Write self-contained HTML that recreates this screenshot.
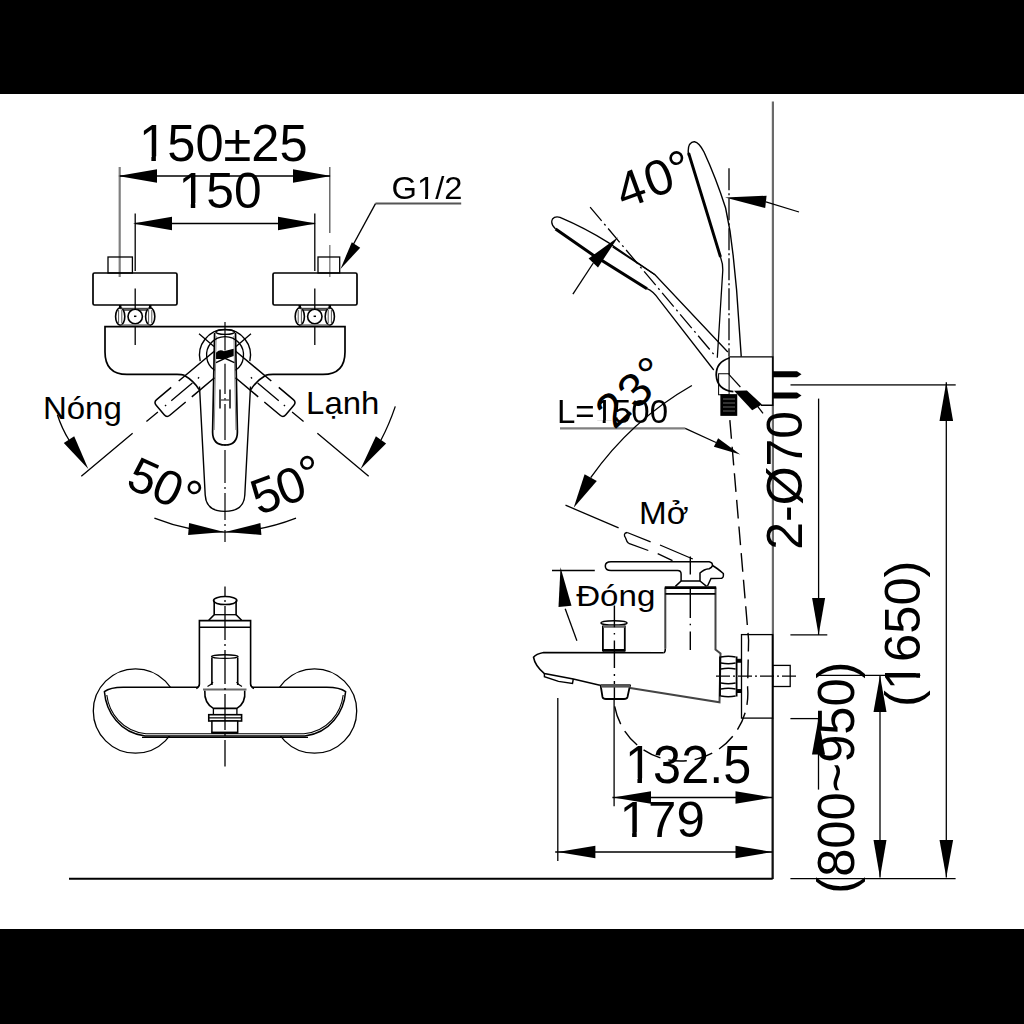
<!DOCTYPE html>
<html><head><meta charset="utf-8">
<style>
html,body{margin:0;padding:0;background:#000;width:1024px;height:1024px;overflow:hidden}
svg{display:block}
text{font-family:"Liberation Sans",sans-serif;fill:#000;stroke:none}
</style></head>
<body>
<svg width="1024" height="1024" viewBox="0 0 1024 1024">
<rect x="0" y="0" width="1024" height="1024" fill="#000"/>
<rect x="0" y="94" width="1024" height="835" fill="#fff"/>
<g fill="none" stroke="#000" stroke-width="1.3">
<line x1="119.7" y1="167" x2="119.7" y2="277" stroke="#808080" stroke-width="2.2"/>
<line x1="329.8" y1="167" x2="329.8" y2="233" stroke="#555"/>
<line x1="329.8" y1="245" x2="329.8" y2="277" stroke="#888" stroke-width="1.5"/>
<line x1="120" y1="176" x2="330" y2="176" />
<path d="M118.0,176.0 L157.0,169.2 L157.0,182.8 Z" fill="#000" stroke="none"/>
<path d="M331.0,176.0 L293.0,182.8 L293.0,169.2 Z" fill="#000" stroke="none"/>
<line x1="135.2" y1="213.5" x2="135.2" y2="271" />
<line x1="314.8" y1="213.5" x2="314.8" y2="271" />
<line x1="135" y1="223.5" x2="315" y2="223.5" />
<path d="M133.0,223.5 L172.0,216.7 L172.0,230.3 Z" fill="#000" stroke="none"/>
<path d="M316.0,223.5 L278.0,230.3 L278.0,216.7 Z" fill="#000" stroke="none"/>
<line x1="375.5" y1="203.6" x2="461.2" y2="203.6" stroke="#555" stroke-width="2"/>
<polyline points="375.5,203.6 347,256"/>
<path d="M340.5,269.0 L351.8,242.3 L360.2,247.7 Z" fill="#000" stroke="none"/>
<rect x="108" y="257" width="24.4" height="16"/>
<rect x="93" y="273" width="84" height="32" rx="1.5" stroke-width="1.7"/>
<rect x="318" y="257" width="21.7" height="16"/>
<rect x="273" y="273" width="84" height="32" rx="1.5" stroke-width="1.7"/>
<rect x="120.19999999999999" y="308" width="30" height="3" fill="#666" stroke="none"/>
<ellipse cx="120.19999999999999" cy="316.5" rx="4.6" ry="8.8" fill="#fff" stroke-width="1.6"/>
<line x1="118.6" y1="310" x2="118.6" y2="323" stroke="#555" stroke-width="1"/>
<line x1="121.79999999999998" y1="310" x2="121.79999999999998" y2="323" stroke="#555" stroke-width="1"/>
<ellipse cx="150.2" cy="316.5" rx="4.6" ry="8.8" fill="#fff" stroke-width="1.6"/>
<line x1="148.6" y1="310" x2="148.6" y2="323" stroke="#555" stroke-width="1"/>
<line x1="151.79999999999998" y1="310" x2="151.79999999999998" y2="323" stroke="#555" stroke-width="1"/>
<circle cx="135.2" cy="316.5" r="7.2" fill="#fff" stroke-width="1.6"/>
<line x1="134.0" y1="316.3" x2="136.39999999999998" y2="316.3" stroke-width="1.5"/>
<line x1="120.19999999999999" y1="308.5" x2="150.2" y2="308.5" stroke="#444" stroke-width="1.4"/>
<line x1="120.19999999999999" y1="325" x2="150.2" y2="325" stroke="#666"/>
<line x1="120.19999999999999" y1="305" x2="120.19999999999999" y2="308.5" stroke-width="2.5"/>
<line x1="150.2" y1="305" x2="150.2" y2="308.5" stroke-width="2.5"/>
<line x1="135.2" y1="288.5" x2="135.2" y2="310" />
<line x1="135.2" y1="327" x2="135.2" y2="345" />
<rect x="299.8" y="308" width="30" height="3" fill="#666" stroke="none"/>
<ellipse cx="299.8" cy="316.5" rx="4.6" ry="8.8" fill="#fff" stroke-width="1.6"/>
<line x1="298.2" y1="310" x2="298.2" y2="323" stroke="#555" stroke-width="1"/>
<line x1="301.40000000000003" y1="310" x2="301.40000000000003" y2="323" stroke="#555" stroke-width="1"/>
<ellipse cx="329.8" cy="316.5" rx="4.6" ry="8.8" fill="#fff" stroke-width="1.6"/>
<line x1="328.2" y1="310" x2="328.2" y2="323" stroke="#555" stroke-width="1"/>
<line x1="331.40000000000003" y1="310" x2="331.40000000000003" y2="323" stroke="#555" stroke-width="1"/>
<circle cx="314.8" cy="316.5" r="7.2" fill="#fff" stroke-width="1.6"/>
<line x1="313.6" y1="316.3" x2="316.0" y2="316.3" stroke-width="1.5"/>
<line x1="299.8" y1="308.5" x2="329.8" y2="308.5" stroke="#444" stroke-width="1.4"/>
<line x1="299.8" y1="325" x2="329.8" y2="325" stroke="#666"/>
<line x1="299.8" y1="305" x2="299.8" y2="308.5" stroke-width="2.5"/>
<line x1="329.8" y1="305" x2="329.8" y2="308.5" stroke-width="2.5"/>
<line x1="314.8" y1="288.5" x2="314.8" y2="310" />
<line x1="314.8" y1="327" x2="314.8" y2="345" />
<path d="M184.5,375.3 Q182,374.4 177,374.4 L127,374.4 Q105,374.4 105,352 L105,326.7 L345,326.7 L345,352 Q345,374.4 323,374.4 L273,374.4 Q268,374.4 265.5,375.3" stroke-width="1.7"/>
<path d="M199.5,386.5 L205.2,495 Q206,511.4 224.7,511.4 Q244,511.4 244.8,495 L250.5,386.5" stroke-width="1.4"/>
<path d="M214.6,333 L212.6,432 Q212.6,445 225,445 Q237.4,445 237.4,432 L235.5,333" stroke-width="1.7"/>
<ellipse cx="225.2" cy="332" rx="9.4" ry="2.4" stroke-width="1.4"/>
<line x1="216.2" y1="336" x2="214.2" y2="430" stroke="#888" stroke-width="1"/>
<line x1="233.9" y1="336" x2="235.9" y2="430" stroke="#888" stroke-width="1"/>
<path d="M216,362.6 L225,358.3 L234.4,362.6" stroke-width="1.4"/>
<path d="M216.7,353 Q220,349.5 224,352 L233,349.6 L233,355.5 L225,358.3 L216.7,358.3 Z" fill="#000"/>
<path d="M200.2,361 A25.5 25.5 0 1 1 249.8,361" stroke-width="1.4"/>
<path d="M214.6,370.3 A18.5 18.5 0 1 1 235.5,370.3" stroke-width="1.3"/>
<path d="M225,322 L225,350.5 M225,363.7 L225,394 M225,398 L225,400 M225,404 L225,440 M225,444 L225,446 M225,450 L225,483 M225,487 L225,489 M225,493 L225,520 M225,524 L225,526 M225,530 L225,542" stroke-width="1.2"/>
<line x1="220" y1="389.5" x2="220" y2="408.5" stroke="#333" stroke-width="1.8"/>
<line x1="230" y1="389.5" x2="230" y2="408.5" stroke="#333" stroke-width="1.8"/>
<line x1="220" y1="400" x2="230" y2="400" stroke="#444"/>
<g transform="translate(225,355) rotate(40)"><path d="M5.4,-9.8 L52.2,-9.8 M22.7,10.7 L52.3,10.7" stroke-width="1.5"/><path d="M62,-9.8 L81,-9.8 Q85,-9.8 85,-5.8 L85,6.7 Q85,10.7 81,10.7 L60.3,10.7" stroke-width="1.5"/><path d="M44.2,-10.3 Q40.5,0 42.1,9.8" stroke-width="1.5"/><path d="M43,0.5 L70.6,0.5 M77.2,0.5 L78.8,0.5 M88,0.5 L103,0.5 M121,0.5 L188,0.5 M-33.5,0.5 L-14,0.5 M34.2,0.5 L35.8,0.5" stroke-width="1.3"/></g>
<g transform="translate(225,355) scale(-1,1) rotate(40)"><path d="M5.4,-9.8 L52.2,-9.8 M22.7,10.7 L52.3,10.7" stroke-width="1.5"/><path d="M62,-9.8 L81,-9.8 Q85,-9.8 85,-5.8 L85,6.7 Q85,10.7 81,10.7 L60.3,10.7" stroke-width="1.5"/><path d="M44.2,-10.3 Q40.5,0 42.1,9.8" stroke-width="1.5"/><path d="M43,0.5 L70.6,0.5 M77.2,0.5 L78.8,0.5 M88,0.5 L103,0.5 M121,0.5 L188,0.5 M-33.5,0.5 L-14,0.5 M34.2,0.5 L35.8,0.5" stroke-width="1.3"/></g>
<path d="M154.4,518.2 Q224.7,546 296,518.2" stroke-width="1.3"/>
<path d="M224.2,531.9 L188.1,534.9 L189.1,523.1 Z" fill="#000" stroke="none"/>
<path d="M225.2,531.9 L260.4,523.1 L261.4,534.9 Z" fill="#000" stroke="none"/>
<path d="M57.4,414.8 Q62,429 69,440" stroke-width="1.3"/>
<path d="M88.3,469.0 L63.8,443.1 L74.2,436.3 Z" fill="#000" stroke="none"/>
<path d="M395.3,406.4 Q389,425 381,440" stroke-width="1.3"/>
<path d="M360.6,469.0 L375.9,436.3 L386.1,443.5 Z" fill="#000" stroke="none"/>
<circle cx="135.5" cy="711" r="42.2" stroke-width="1.3"/>
<circle cx="314.5" cy="711" r="42.2" stroke-width="1.3"/>
<path d="M104.4,691.6 Q110,687.2 123.2,687.2 L326.8,687.2 Q340,687.2 345.6,691.6 C344,712 330,733 305,736 L145,736 C120,733 106,712 104.4,691.6 Z" fill="#fff" stroke-width="1.5"/>
<path d="M106.8,695 C109,713 122,731 146,733.8 L304,733.8 C328,731 341,713 343.2,695" stroke-width="1.1"/>
<line x1="142" y1="737.3" x2="308" y2="737.3" stroke-width="1.3"/>
<path d="M196.25,688.5 Q199.4,687 199.4,684 L199.4,620.6 L250.6,620.6 L250.6,684 Q250.6,687 254,688.5" fill="#fff" stroke-width="1.6"/>
<line x1="199.4" y1="627.2" x2="250.6" y2="627.2" stroke-width="1.6"/>
<path d="M208.75,620.2 L214.2,614.7 L214.2,600.6 M241.6,620.2 L236.1,614.7 L236.1,600.6" stroke-width="1.6"/>
<line x1="214.2" y1="614.7" x2="236.1" y2="614.7" />
<ellipse cx="225.2" cy="600.6" rx="11.7" ry="4" stroke-width="1.5"/>
<path d="M211.9,685 L211.9,657.5 M237.7,685 L237.7,657.5" stroke-width="1.6"/>
<ellipse cx="224.8" cy="656.6" rx="13.3" ry="1.8" stroke-width="1.4"/>
<path d="M207.5,686.5 Q211.5,684.5 213,682 M242,686.5 Q238,684.5 236.6,682" stroke-width="1.3"/>
<path d="M204.8,690.5 Q204,703 213.4,708.4 L236.9,708.4 Q246,703 244.7,690.5" fill="#fff" stroke-width="1.6"/>
<line x1="203" y1="689.5" x2="246.5" y2="689.5" stroke="#666" stroke-width="2"/>
<path d="M213.4,708.4 L213.4,714.7 M236.9,708.4 L236.9,714.7" stroke-width="1.3"/>
<rect x="208.75" y="714.7" width="32.85" height="6.3" fill="#fff" stroke-width="1.6"/>
<line x1="209" y1="717.8" x2="241.4" y2="717.8" stroke-width="1.3"/>
<rect x="211.9" y="721" width="25.8" height="11.7" fill="#fff" stroke-width="1.5"/>
<line x1="211.5" y1="732.7" x2="238" y2="732.7" stroke-width="2.2"/>
<path d="M225,586.4 L225,597 M225,600 L225,602 M225,606 L225,640 M225,644 L225,646 M225,650 L225,684 M225,688 L225,690 M225,694 L225,730 M225,734 L225,736 M225,740 L225,766.6" stroke-width="1.3"/>
<line x1="772.9" y1="101.5" x2="772.9" y2="879" stroke="#6a6a6a" stroke-width="2.2"/>
<line x1="772.5" y1="634.6" x2="772.5" y2="718" stroke="#333" stroke-width="1.6"/>
<line x1="772.5" y1="718" x2="772.5" y2="879" stroke="#111" stroke-width="1.8"/>
<line x1="69" y1="878.7" x2="772.7" y2="878.7" stroke-width="2"/>
<path d="M688.6,156 Q687.5,148 689.5,144.5 Q692,141.5 694.5,141.8 Q699,142.5 704,152 Q716,178 725.6,208 Q731,232 733.4,258 L736.6,290 L741.25,356.6" stroke-width="1.4"/>
<path d="M688.6,153 L704.6,205 L720.5,257" stroke-width="2.9"/>
<path d="M720.5,257 Q723,264 722.8,270 L717.3,357.8" stroke-width="1.3"/>
<line x1="729" y1="168.2" x2="729" y2="356" stroke-dasharray="22,3,2,3"/>
<path d="M725.0,197.5 L766.6,195.7 L765.2,208.1 Z" fill="#000" stroke="none"/>
<line x1="765.9" y1="201.9" x2="799" y2="212" />
<path d="M555.6,229 Q550,224 552.5,219 Q555,216 560,217.4 Q585,228 608.4,242.6 L655,274.8 L727.8,352" />
<path d="M555.6,229 L592.3,254.4 L647,288.7" stroke-width="3"/>
<path d="M647,288.7 Q653,291 658.7,299.2 L713.75,370" />
<path d="M612.7,246.9 L655,274.8" />
<line x1="590.1" y1="207.1" x2="713.75" y2="354.3" stroke-dasharray="18,4,2,4"/>
<path d="M618.0,237.2 L598.0,267.5 L588.6,258.5 Z" fill="#000" stroke="none"/>
<line x1="593.3" y1="263" x2="572.9" y2="294.2" />
<path d="M729.1,374.7 L729.1,356.9 L772.8,356.9 L772.8,405.3 L761,405.3" stroke-width="1.4"/>
<line x1="729.1" y1="374.7" x2="740.4" y2="387" stroke-width="1.2"/>
<path d="M729.5,358 Q716,362 716.25,375 Q717,390 733.4,391.7" stroke-width="1.8"/>
<rect x="718.6" y="373.75" width="10.5" height="21" stroke-width="1"/>
<rect x="721" y="394.8" width="15.6" height="20.4" fill="#000"/>
<line x1="723" y1="399" x2="735" y2="399" stroke="#fff" stroke-width="0.4"/>
<line x1="723" y1="403" x2="735" y2="403" stroke="#fff" stroke-width="0.4"/>
<line x1="723" y1="407" x2="735" y2="407" stroke="#fff" stroke-width="0.4"/>
<line x1="723" y1="411" x2="735" y2="411" stroke="#fff" stroke-width="0.4"/>
<path d="M734,390.8 L746.9,390.6 L762,404.6 L752.2,410.3 Z" fill="#000" stroke="none"/>
<line x1="756.5" y1="404.8" x2="763" y2="413.4" />
<path d="M773,371.2 L797,371.2 L801.5,374.2 L797,377.2 L773,377.2 Z" fill="#000" stroke="none"/>
<path d="M773,392.4 L797,392.4 L801.5,395.4 L797,398.4 L773,398.4 Z" fill="#000" stroke="none"/>
<line x1="560" y1="428.3" x2="685.2" y2="428.3" stroke="#808080" stroke-width="2.2"/>
<line x1="685.2" y1="428.3" x2="716" y2="442.5" stroke-width="1.3"/>
<path d="M740.2,454.5 L713.9,446.8 L718.1,438.2 Z" fill="#000" stroke="none"/>
<path d="M729.5,416 L748.6,640 L747.6,688 A67 67 0 0 1 613.75,699.7" stroke-dasharray="18.7,8" stroke-dashoffset="22.6" stroke-width="1.4"/>
<path d="M691.9,385.5 A314 314 0 0 0 590.7,477.7" stroke-width="1.4"/>
<path d="M573.7,507.8 L584.6,474.3 L596.8,481.1 Z" fill="#000" stroke="none"/>
<line x1="552" y1="570.5" x2="594.8" y2="570.5" />
<path d="M560.5,567.3 L571.5,605.7 L558.5,607.1 Z" fill="#000" stroke="none"/>
<line x1="565.2" y1="608.75" x2="576.9" y2="640.8" />
<line x1="790.5" y1="384.8" x2="955.7" y2="384.8" stroke="#444" stroke-width="1.8"/>
<line x1="818.6" y1="398.6" x2="818.6" y2="634.9" />
<path d="M818.6,634.9 L812.1,598.0 L825.1,598.0 Z" fill="#000" stroke="none"/>
<line x1="790.4" y1="634.9" x2="827.3" y2="634.9" />
<line x1="946.3" y1="382.2" x2="946.3" y2="877.5" />
<path d="M946.3,382.2 L953.1,420.9 L939.5,420.9 Z" fill="#000" stroke="none"/>
<path d="M946.3,877.5 L939.5,840.0 L953.1,840.0 Z" fill="#000" stroke="none"/>
<line x1="790.4" y1="878.6" x2="955.6" y2="878.6" />
<line x1="818.5" y1="718.6" x2="818.5" y2="789.6" />
<path d="M818.5,718.6 L825.0,754.5 L812.0,754.5 Z" fill="#000" stroke="none"/>
<line x1="790.4" y1="718.6" x2="820.3" y2="718.6" />
<line x1="880" y1="675.4" x2="880" y2="877.5" />
<path d="M880.0,675.4 L886.5,712.0 L873.5,712.0 Z" fill="#000" stroke="none"/>
<path d="M880.0,877.5 L873.5,840.0 L886.5,840.0 Z" fill="#000" stroke="none"/>
<line x1="816.4" y1="675.4" x2="920.3" y2="675.4" />
<rect x="741.5" y="634.6" width="31.2" height="83.5"/>
<rect x="772.7" y="665.4" width="17.5" height="21.1"/>
<line x1="716" y1="676.2" x2="798" y2="676.2" stroke-dasharray="14,3,2,3"/>
<line x1="557.8" y1="698" x2="557.8" y2="861" />
<line x1="614.1" y1="698" x2="614.1" y2="806.3" />
<line x1="612.4" y1="797.5" x2="772.5" y2="797.5" />
<path d="M613.0,797.5 L651.0,791.2 L651.0,803.8 Z" fill="#000" stroke="none"/>
<path d="M772.5,797.5 L735.5,803.8 L735.5,791.2 Z" fill="#000" stroke="none"/>
<line x1="555.2" y1="852" x2="772.5" y2="852" />
<path d="M557.8,852.0 L595.4,845.7 L595.4,858.3 Z" fill="#000" stroke="none"/>
<path d="M772.5,852.0 L735.5,858.3 L735.5,845.7 Z" fill="#000" stroke="none"/>
<path d="M665.3,648.4 L665.3,587.6 M715.5,587.6 L715.5,649.5 L720.5,653.4 L719.5,702.3 L630.2,688" stroke="#444" stroke-width="2"/>
<path d="M663.4,652.7 Q665.3,652.7 665.3,648.4" stroke-width="1.6"/>
<line x1="664.8" y1="587.6" x2="716.2" y2="587.6" stroke-width="2.6"/>
<line x1="665.3" y1="593.8" x2="715.5" y2="593.8" stroke-width="1.8"/>
<path d="M663.4,652.7 L543.6,652.5 Q536,654 533.5,657.2 Q535,666 544.4,673.6 L573.3,679 L599.9,685.3" stroke-width="1.6"/>
<path d="M544.4,673.6 L544.4,676.7 L558.5,681.4 L572.5,683.4 L573.3,679" stroke-width="1.4"/>
<path d="M602.9,625.4 L602.9,651.6 M624.8,625.4 L624.8,651.6" stroke-width="1.8"/>
<ellipse cx="614" cy="622.9" rx="13.1" ry="2.2" stroke-width="1.5"/>
<rect x="603" y="625.2" width="21.8" height="2.6" fill="#666" stroke="none"/>
<rect x="603" y="649" width="21.8" height="2.8" fill="#000" stroke="none"/>
<path d="M614.4,605.5 L614.4,627.3 M614.4,633 L614.4,634.5 M614.4,640.6 L614.4,668 M614.4,674 L614.4,676 M614.4,681 L614.4,699" stroke-width="1.4"/>
<path d="M600.5,684.5 L602.5,697 Q603,699 606,699 L624,699 Q627,699 627.5,697 L630.2,684.5" stroke-width="1.8"/>
<rect x="601" y="684" width="29" height="3.6" fill="#555" stroke="none"/>
<path d="M720,656.4 L720,696.4 M736.6,656.4 L736.6,696.4" stroke-width="1.8"/>
<path d="M721,657 Q728.3,655.5 735.6,657 M721,663 Q728.3,664.5 735.6,663" stroke-width="1.3"/>
<path d="M721,669 Q728.3,667.5 735.6,669 M721,683 Q728.3,684.5 735.6,683" stroke-width="1.3"/>
<path d="M721,689 Q728.3,687.5 735.6,689 M721,696 Q728.3,697.5 735.6,696" stroke-width="1.3"/>
<path d="M736.6,659.3 L741.5,659.3 L741.5,662.2 L736.6,662.2 M736.6,689.6 L741.5,689.6 L741.5,692.5 L736.6,692.5" fill="#000" stroke-width="1"/>
<path d="M677.6,570.5 L611,570.5 Q605.3,570.5 605.3,566 Q605.3,561.7 611,561.7 L709.2,561.7 Q712.7,562.5 712.5,565.5 Q717,568 723.3,573.5 Q724,577.5 721.5,578.3 L711,578.4 L707.5,586 M677.6,570.5 Q681.1,570.5 681.1,574 L681.1,581 L700,581 L700,573.1 Q704,569 709.2,568.7 Q712,567.5 712.5,565.5" stroke-width="1.5"/>
<path d="M681.1,581 L675.4,586.4 M700,581 L706.6,586.4" stroke-width="1.5"/>
<path d="M690.3,556.4 L690.3,574.4 M690.3,588 L690.3,618 M690.3,623.8 L690.3,625.3 M690.3,631.6 L690.3,650" stroke-width="1.4"/>
<path d="M627.2,532.5 Q622.5,533.5 625.6,538 Q626.5,541.5 628.75,543.4" stroke-width="1.3"/>
<path d="M627.2,532.5 L650.6,541.9 M660,545 L692.8,559 M628.75,543.4 L648.3,550.5 M657.7,553.6 L672.5,560.6" stroke-width="1.3"/>
<line x1="565.5" y1="505.2" x2="618.6" y2="527.8" />
</g>
<text x="136.8" y="492.2" font-size="49" text-anchor="middle" transform="rotate(24 136.8 492.2)">5</text>
<text x="161.1" y="503.0" font-size="49" text-anchor="middle" transform="rotate(24 161.1 503.0)">0</text>
<text x="183.2" y="512.5" font-size="49" text-anchor="middle" transform="rotate(24 183.2 512.5)">°</text>
<text x="271.7" y="510.8" font-size="50" text-anchor="middle" transform="rotate(-20 271.7 510.8)">5</text>
<text x="296.5" y="501.7" font-size="50" text-anchor="middle" transform="rotate(-20 296.5 501.7)">0</text>
<text x="316.7" y="489.1" font-size="50" text-anchor="middle" transform="rotate(-20 316.7 489.1)">°</text>
<text x="636.7" y="204.4" font-size="50" text-anchor="middle" transform="rotate(-20 636.7 204.4)">4</text>
<text x="664.6" y="193.8" font-size="50" text-anchor="middle" transform="rotate(-20 664.6 193.8)">0</text>
<text x="686.0" y="184.3" font-size="50" text-anchor="middle" transform="rotate(-20 686.0 184.3)">°</text>
<text x="624.0" y="421.5" font-size="48" text-anchor="middle" transform="rotate(-43 624.0 421.5)">2</text>
<text x="646.0" y="401.8" font-size="48" text-anchor="middle" transform="rotate(-43 646.0 401.8)">3</text>
<text x="663.7" y="384.2" font-size="48" text-anchor="middle" transform="rotate(-43 663.7 384.2)">°</text>
<mask id="m_t150pm" maskUnits="userSpaceOnUse" x="-2000" y="-2000" width="5000" height="5000"><rect x="-2000" y="-2000" width="5000" height="5000" fill="#fff"/><rect x="141.10" y="156.28" width="10.27" height="6.29" fill="#000"/><rect x="155.88" y="156.28" width="10.02" height="6.29" fill="#000"/></mask><text x="139.1" y="161.0" font-size="52.44" textLength="168.55" lengthAdjust="spacingAndGlyphs" mask="url(#m_t150pm)">150±25</text>
<mask id="m_t150" maskUnits="userSpaceOnUse" x="-2000" y="-2000" width="5000" height="5000"><rect x="-2000" y="-2000" width="5000" height="5000" fill="#fff"/><rect x="180.59" y="202.94" width="10.20" height="6.09" fill="#000"/><rect x="195.26" y="202.94" width="9.95" height="6.09" fill="#000"/></mask><text x="178.6" y="207.5" font-size="50.72" textLength="82.96" lengthAdjust="spacingAndGlyphs" mask="url(#m_t150)">150</text>
<mask id="m_tG" maskUnits="userSpaceOnUse" x="-2000" y="-2000" width="5000" height="5000"><rect x="-2000" y="-2000" width="5000" height="5000" fill="#fff"/><rect x="418.35" y="195.95" width="6.70" height="3.81" fill="#000"/><rect x="427.99" y="195.95" width="6.54" height="3.81" fill="#000"/></mask><text x="391.6" y="198.8" font-size="31.72" textLength="70.89" lengthAdjust="spacingAndGlyphs" mask="url(#m_tG)">G1/2</text>
<text x="42.9" y="418.6" font-size="31.51" textLength="78.99" lengthAdjust="spacingAndGlyphs">Nóng</text>
<text x="306.1" y="413.8" font-size="31.57" textLength="73.25" lengthAdjust="spacingAndGlyphs">Lạnh</text>
<mask id="m_t1325" maskUnits="userSpaceOnUse" x="-2000" y="-2000" width="5000" height="5000"><rect x="-2000" y="-2000" width="5000" height="5000" fill="#fff"/><rect x="627.12" y="778.21" width="10.33" height="6.39" fill="#000"/><rect x="641.98" y="778.21" width="10.08" height="6.39" fill="#000"/></mask><text x="625.1" y="783.0" font-size="53.26" textLength="126.07" lengthAdjust="spacingAndGlyphs" mask="url(#m_t1325)">132.5</text>
<mask id="m_t179" maskUnits="userSpaceOnUse" x="-2000" y="-2000" width="5000" height="5000"><rect x="-2000" y="-2000" width="5000" height="5000" fill="#fff"/><rect x="621.64" y="832.18" width="10.47" height="5.90" fill="#000"/><rect x="636.71" y="832.18" width="10.21" height="5.90" fill="#000"/></mask><text x="619.6" y="836.6" font-size="49.13" textLength="85.19" lengthAdjust="spacingAndGlyphs" mask="url(#m_t179)">179</text>
<mask id="m_tL" maskUnits="userSpaceOnUse" x="-2000" y="-2000" width="5000" height="5000"><rect x="-2000" y="-2000" width="5000" height="5000" fill="#fff"/><rect x="595.96" y="420.23" width="6.77" height="3.96" fill="#000"/><rect x="605.70" y="420.23" width="6.60" height="3.96" fill="#000"/></mask><text x="557.0" y="423.2" font-size="32.99" textLength="111.06" lengthAdjust="spacingAndGlyphs" mask="url(#m_tL)">L=1500</text>
<text x="639.0" y="523.6" font-size="31.2" textLength="49.53" lengthAdjust="spacingAndGlyphs">Mở</text>
<text x="576.2" y="605.6" font-size="30.0" textLength="79.11" lengthAdjust="spacingAndGlyphs">Đóng</text>
<text x="801.7" y="549.7" font-size="49.68" textLength="138.85" lengthAdjust="spacingAndGlyphs" transform="rotate(-90 801.7 549.7)">2-Ø70</text>
<mask id="m_t1650" maskUnits="userSpaceOnUse" x="-2000" y="-2000" width="5000" height="5000"><rect x="-2000" y="-2000" width="5000" height="5000" fill="#fff"/><rect x="939.12" y="702.62" width="10.40" height="5.97" fill="#000"/><rect x="954.09" y="702.62" width="10.15" height="5.97" fill="#000"/></mask><text x="920.2" y="707.1" font-size="49.73" textLength="146.61" lengthAdjust="spacingAndGlyphs" transform="rotate(-90 920.2 707.1)" mask="url(#m_t1650)">(1650)</text>
<text x="853.9" y="893.7" font-size="52.3" textLength="232.16" lengthAdjust="spacingAndGlyphs" transform="rotate(-90 853.9 893.7)">(800~950)</text>
</svg></body></html>
